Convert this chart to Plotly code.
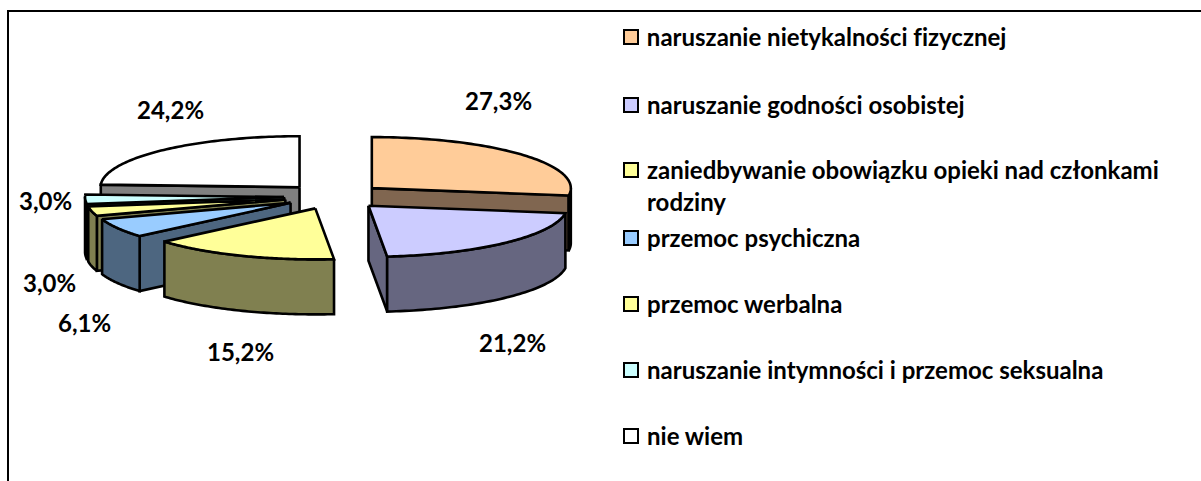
import numpy as np
import plotly.graph_objects as go

categories = [
    "naruszanie nietykalności fizycznej",
    "naruszanie godności osobistej",
    "zaniedbywanie obowiązku opieki nad członkami<br>rodziny",
    "przemoc psychiczna",
    "przemoc werbalna",
    "naruszanie intymności i przemoc seksualna",
    "nie wiem",
]
values = [27.3, 21.2, 15.2, 6.1, 3.0, 3.0, 24.2]
top_colors = ["#FFCC99", "#CCCCFF", "#FFFF99", "#99CCFF", "#FFFF99", "#CCFFFF", "#FFFFFF"]
side_colors = ["#806650", "#666680", "#808050", "#4D6680", "#808050", "#668080", "#808080"]

# layout in page pixels
W, H = 1201, 481
CX, CY = 334, 196.5    # centre of the unexploded pie
RX, RY = 199, 51       # ellipse radii of the tilted pie
DEPTH = 55             # thickness of the pie
EXPLODE = 50           # how far each slice is pulled out
LINE = 2.6
label_xy = [(498, 100), (512, 342), (240, 351), (84, 322), (49, 282), (45, 200), (170, 109)]
legend_y = [36, 104, 169, 237, 303, 369, 435]
LINE_GAP = 32
FONT = "Lato"
FONT_SIZE = 24

fig = go.Figure()


def poly(xs, ys, color, name):
    fig.add_trace(go.Scatter(
        x=list(xs) + [xs[0]], y=list(ys) + [ys[0]], mode="lines", fill="toself",
        fillcolor=color, line=dict(color="black", width=LINE, simplify=False),
        name=name, showlegend=False, hoverinfo="skip"))


def pt(deg, ax, ay):
    t = np.radians(deg)
    return ax + RX * np.sin(t), ay - RY * np.cos(t)


# slice angles, clockwise from 12 o'clock, scaled from the values
total = sum(values)
edges = np.concatenate([[0], np.cumsum(values)]) * 360 / total
slices = []
for i, v in enumerate(values):
    a, b = edges[i], edges[i + 1]
    m = np.radians((a + b) / 2)
    ax = CX + EXPLODE * np.sin(m)
    ay = CY - EXPLODE * RY / RX * np.cos(m)
    slices.append((i, a, b, ax, ay))

# back-to-front painting order
for i in [6, 5, 4, 3, 2, 0, 1]:
    _, a, b, ax, ay = slices[i]
    name = categories[i].replace("<br>", " ")
    # visible radial faces
    if 180 <= a < 360:
        x1, y1 = pt(a, ax, ay)
        poly([ax, x1, x1, ax], [ay, y1, y1 + DEPTH, ay + DEPTH], side_colors[i], name)
    if 0 < b <= 180:
        x1, y1 = pt(b, ax, ay)
        poly([ax, x1, x1, ax], [ay, y1, y1 + DEPTH, ay + DEPTH], side_colors[i], name)
    # visible part of the outer wall
    lo, hi = max(a, 90), min(b, 270)
    if hi > lo:
        ts = np.linspace(lo, hi, 60)
        xs, ys = pt(ts, ax, ay)
        poly(np.concatenate([xs, xs[::-1]]), np.concatenate([ys, ys[::-1] + DEPTH]),
             side_colors[i], name)
    # top face
    ts = np.linspace(a, b, 80)
    xs, ys = pt(ts, ax, ay)
    poly(np.concatenate([[ax], xs]), np.concatenate([[ay], ys]), top_colors[i], name)

# legend swatches
fig.add_trace(go.Scatter(
    x=[631] * len(categories), y=[y + 1 for y in legend_y], mode="markers",
    marker=dict(symbol="square", size=14, color=top_colors, line=dict(color="black", width=2)),
    showlegend=False, hoverinfo="skip"))

annotations = []
for name, ly in zip(categories, legend_y):
    for k, part in enumerate(name.split("<br>")):
        annotations.append(dict(
            x=645, y=ly + k * LINE_GAP, xref="x", yref="y", text=f"<b>{part}</b>", showarrow=False,
            xanchor="left", yanchor="middle", font=dict(family=FONT, size=FONT_SIZE, color="black")))
for v, (lx, ly) in zip(values, label_xy):
    annotations.append(dict(
        x=lx, y=ly, xref="x", yref="y", text=f"<b>{v:.1f}%</b>".replace(".", ","), showarrow=False,
        xanchor="center", yanchor="middle", font=dict(family=FONT, size=FONT_SIZE, color="black")))

fig.update_layout(
    width=W, height=H, margin=dict(l=0, r=0, t=0, b=0),
    paper_bgcolor="white", plot_bgcolor="white", showlegend=False,
    xaxis=dict(range=[0, W], visible=False, fixedrange=True),
    yaxis=dict(range=[H, 0], visible=False, fixedrange=True),
    annotations=annotations,
    shapes=[
        dict(type="line", x0=8, x1=8, y0=11, y1=H, line=dict(color="black", width=2)),
        dict(type="line", x0=7, x1=W, y0=11, y1=11, line=dict(color="black", width=2)),
    ],
)
fig.write_html(
    "out.html", config=dict(displayModeBar=False),
    post_script="document.body.style.margin='0';document.body.style.overflow='hidden';"
                "var s=document.createElement('style');"
                "s.textContent='text{font-variant-ligatures:none !important;font-feature-settings:\"liga\" 0 !important}';"
                "document.head.appendChild(s);",
)
